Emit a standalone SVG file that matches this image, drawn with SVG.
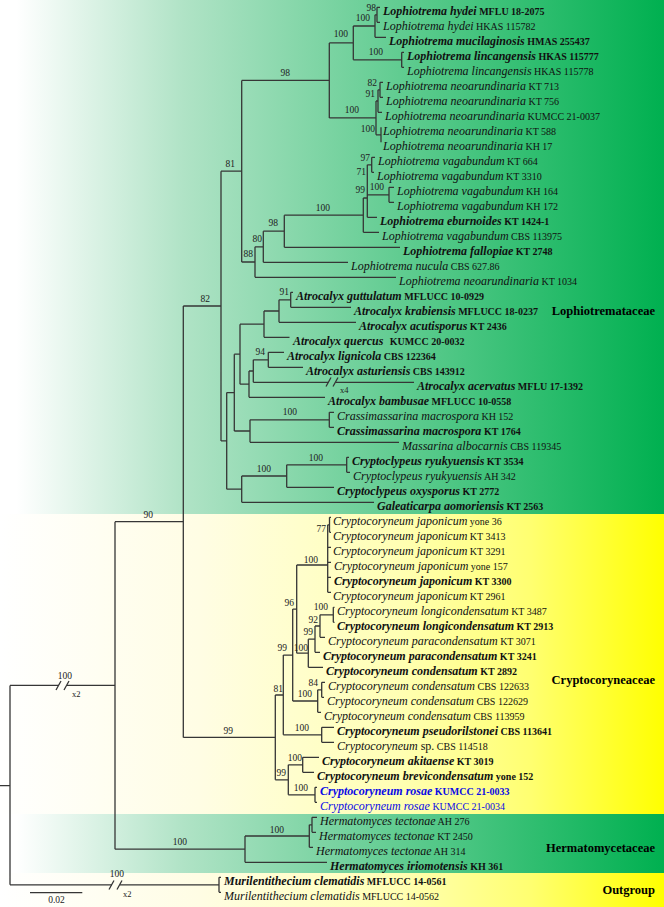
<svg xmlns="http://www.w3.org/2000/svg" width="664" height="907" viewBox="0 0 664 907">
<defs>
<linearGradient id="gG" x1="0" y1="0" x2="664" y2="0" gradientUnits="userSpaceOnUse">
<stop offset="0" stop-color="#ffffff"/>
<stop offset="0.025" stop-color="#ffffff"/>
<stop offset="0.276" stop-color="#b0e3c6"/>
<stop offset="1" stop-color="#00b050"/>
</linearGradient>
<linearGradient id="gY" x1="0" y1="0" x2="664" y2="0" gradientUnits="userSpaceOnUse">
<stop offset="0" stop-color="#ffffff"/>
<stop offset="0.3" stop-color="#fffde4"/>
<stop offset="0.6" stop-color="#ffffb4"/>
<stop offset="0.8" stop-color="#ffff70"/>
<stop offset="1" stop-color="#ffff00"/>
</linearGradient>
<style>
.e{fill:none;stroke:#363636;stroke-width:1.3}
.t{font-family:"Liberation Serif","Times New Roman",serif;font-size:10px;fill:#111}
.i{font-style:italic;font-size:12px}
.u{font-size:12px}
.b{font-weight:bold}
.bl{fill:#0a0ae6}
.s{font-family:"Liberation Serif","Times New Roman",serif;font-size:9.5px;fill:#222;text-anchor:end}
.x{font-family:"Liberation Serif","Times New Roman",serif;font-size:8.5px;fill:#222}
.f{font-family:"Liberation Serif","Times New Roman",serif;font-size:12.5px;font-weight:bold;text-anchor:end;fill:#000}
</style>
</defs>
<g id="background">
<rect x="0" y="0" width="664" height="514" fill="url(#gG)"/>
<rect x="0" y="514" width="664" height="300" fill="url(#gY)"/>
<rect x="0" y="814" width="664" height="59" fill="url(#gG)"/>
<rect x="0" y="873" width="664" height="34" fill="url(#gY)"/>
</g>
<g id="connectors">
<path class="e" d="M0,785.6H10 M10,685.4V884.8 M10,685.4H59 M67,685.4H115 M10,884.8H112 M120,884.8H219 M219,877.3V892.3 M219,877.3H221 M219,892.3H221"/>
<path class="e" d="M56,690L61,681 M64,690L69,681 M109,889.5L114,880.5 M117,889.5L122,880.5"/>
<path class="e" d="M115,521.7V849.2 M115,521.7H183.3 M115,849.2H245 M245,836V862.3 M245,836H309.3 M245,862.3H327 M309.3,824.8V847.3 M309.3,824.8H312 M309.3,847.3H313 M312,817.3V832.3 M312,817.3H317 M312,832.3H316"/>
<path class="e" d="M183.3,306V737.4 M183.3,306H221 M183.3,737.4H275.3
M275.3,695V779.8 M275.3,695H283.3 M275.3,779.8H288.3
M283.3,655.1V734.8 M283.3,655.1H292.7 M283.3,734.8H321.7
M321.7,727.3V742.3 M321.7,727.3H334 M321.7,742.3H334
M288.3,764.8V794.8 M288.3,764.8H302.7 M288.3,794.8H315
M302.7,757.3V772.3 M302.7,757.3H319 M302.7,772.3H314
M315,787.3V802.3 M315,787.3H317 M315,802.3H317
M292.7,609.1V701 M292.7,609.1H296.7 M292.7,701H317.7
M317.7,689.8V712.3 M317.7,689.8H321.7 M317.7,712.3H321
M321.7,682.3V697.3 M321.7,682.3H325 M321.7,697.3H324
M296.7,565V653.2 M296.7,565H327.7 M296.7,653.2H308.3
M308.3,639.2V667.3 M308.3,639.2H315 M308.3,667.3H323
M315,626V652.3 M315,626H320 M315,652.3H320
M320,614.8V637.3 M320,614.8H333.3 M320,637.3H325
M333.3,607.3V622.3 M333.3,607.3H334.5 M333.3,622.3H334.5
M327.7,524.8V592.3 M327.7,524.8H329.5 M327.7,547.3H331 M327.7,562.3H331 M327.7,577.3H331 M327.7,592.3H331
M329.5,517.3V532.3 M329.5,517.3H331 M329.5,532.3H331"/>
<path class="e" d="M221,171.2V440.9 M221,171.2H241.7 M221,440.9H226.7
M226.7,392.6V489.2 M226.7,392.6H234.3 M226.7,489.2H241.7
M241.7,476V502.3 M241.7,476H286.7 M241.7,502.3H374
M286.7,464.8V487.3 M286.7,464.8H346.7 M286.7,487.3H334
M346.7,457.3V472.3 M346.7,457.3H349 M346.7,472.3H350
M234.3,354.2V431 M234.3,354.2H240 M234.3,431H250
M250,419.8V442.3 M250,419.8H329.3 M250,442.3H399
M329.3,412.3V427.3 M329.3,412.3H334 M329.3,427.3H334
M240,324.2V384.2 M240,324.2H264 M240,384.2H249
M249,371V397.3 M249,371H253.3 M249,397.3H325
M253.3,359.8V382.3 M253.3,359.8H268.3 M253.3,382.3H328.5 M335.5,382.3H414
M268.3,352.3V367.3 M268.3,352.3H284 M268.3,367.3H303
M264,311V337.3 M264,311H279 M264,337.3H289.5
M279,299.8V322.3 M279,299.8H290.7 M279,322.3H356
M290.7,292.3V307.3 M290.7,292.3H293 M290.7,307.3H351"/>
<path class="e" d="M326,386.5L331,377.5 M333,386.5L338,377.5"/>
<path class="e" d="M241.7,80.4V262 M241.7,80.4H329.3 M241.7,262H255
M255,246.8V277.3 M255,246.8H263.3 M255,277.3H396
M263.3,231.2V262.3 M263.3,231.2H284.3 M263.3,262.3H348
M284.3,215.2V247.3 M284.3,215.2H363.3 M284.3,247.3H400
M363.3,198V232.3 M363.3,198H367.3 M363.3,232.3H379
M367.3,164.8V217.3 M367.3,164.8H371.7 M367.3,194.8H389 M367.3,217.3H377
M389,187.3V202.3 M389,187.3H394 M389,202.3H394
M371.7,157.3V172.3 M371.7,157.3H375 M371.7,172.3H374
M329.3,42.9V117.9 M329.3,42.9H353.3 M329.3,117.9H376
M353.3,26V59.8 M353.3,26H375 M353.3,59.8H401.7
M375,14.8V37.3 M375,14.8H377 M375,37.3H386
M377,7.3V22.3 M377,7.3H380 M377,22.3H380
M401.7,52.3V67.3 M401.7,52.3H404 M401.7,67.3H404
M376,101V134.8 M376,101H378 M376,134.8H381
M378,89.8V112.3 M378,89.8H380 M378,112.3H382
M380,82.3V97.3 M380,82.3H383 M380,97.3H383
M381,127.3V142.3"/>
<path class="e" d="M30,892.7H82.3"/>
</g>
<g id="support">
<text class="s" x="376" y="10.5">98</text>
<text class="s" x="370" y="20.5">100</text>
<text class="s" x="383" y="54.5">100</text>
<text class="s" x="348" y="36.5">100</text>
<text class="s" x="290" y="75.5">98</text>
<text class="s" x="377" y="86">82</text>
<text class="s" x="375" y="96.5">91</text>
<text class="s" x="359" y="112.5">100</text>
<text class="s" x="375" y="131.5">100</text>
<text class="s" x="370" y="160.5">97</text>
<text class="s" x="366" y="174.5">71</text>
<text class="s" x="365" y="192.5">99</text>
<text class="s" x="384" y="189.5">100</text>
<text class="s" x="330" y="211">100</text>
<text class="s" x="278" y="226">98</text>
<text class="s" x="262" y="241.5">80</text>
<text class="s" x="253" y="256.5">88</text>
<text class="s" x="235" y="166.5">81</text>
<text class="s" x="210" y="301.5">82</text>
<text class="s" x="289" y="294.5">91</text>
<text class="s" x="265" y="355">94</text>
<text class="x" x="340" y="393">x4</text>
<text class="s" x="297" y="415">100</text>
<text class="s" x="323" y="460.5">100</text>
<text class="s" x="271" y="471.5">100</text>
<text class="s" x="153" y="517.5">90</text>
<text class="s" x="326" y="531.5">77</text>
<text class="s" x="318" y="562.5">100</text>
<text class="s" x="328" y="610">100</text>
<text class="s" x="318" y="623">92</text>
<text class="s" x="313" y="635">99</text>
<text class="s" x="308" y="651">100</text>
<text class="s" x="294" y="606">96</text>
<text class="s" x="287" y="651">99</text>
<text class="s" x="318" y="686">84</text>
<text class="s" x="312" y="697">100</text>
<text class="s" x="283" y="691.5">81</text>
<text class="s" x="309" y="731">100</text>
<text class="s" x="302" y="760.5">100</text>
<text class="s" x="286" y="776">99</text>
<text class="s" x="308" y="791">100</text>
<text class="s" x="233" y="733.5">99</text>
<text class="s" x="187" y="845">100</text>
<text class="s" x="284" y="833">100</text>
<text class="s" x="72" y="679">100</text>
<text class="x" x="72" y="697">x2</text>
<text class="s" x="124" y="876.5">100</text>
<text class="x" x="123" y="897">x2</text>
<text class="s" x="56.5" y="903" style="text-anchor:middle">0.02</text>
</g>
<g id="families">
<text id="fam-lophiotremataceae" class="f" x="655" y="314.5">Lophiotremataceae</text>
<text id="fam-cryptocoryneaceae" class="f" x="655" y="683.5">Cryptocoryneaceae</text>
<text id="fam-hermatomycetaceae" class="f" x="655" y="852">Hermatomycetaceae</text>
<text id="fam-outgroup" class="f" x="655" y="894">Outgroup</text>
</g>
<g id="taxa">
<g id="t0"><text class="t b" x="383" y="15.3"><tspan class="i">Lophiotrema hydei</tspan> MFLU 18-2075</text></g>
<g id="t1"><text class="t" x="383" y="30.3"><tspan class="i">Lophiotrema hydei</tspan> HKAS 115782</text></g>
<g id="t2"><text class="t b" x="389" y="45.3"><tspan class="i">Lophiotrema mucilaginosis</tspan> HMAS 255437</text></g>
<g id="t3"><text class="t b" x="407" y="60.3"><tspan class="i">Lophiotrema lincangensis</tspan> HKAS 115777</text></g>
<g id="t4"><text class="t" x="407" y="75.3"><tspan class="i">Lophiotrema lincangensis</tspan> HKAS 115778</text></g>
<g id="t5"><text class="t" x="386" y="90.3"><tspan class="i">Lophiotrema neoarundinaria</tspan> KT 713</text></g>
<g id="t6"><text class="t" x="386" y="105.3"><tspan class="i">Lophiotrema neoarundinaria</tspan> KT 756</text></g>
<g id="t7"><text class="t" x="385" y="120.3"><tspan class="i">Lophiotrema neoarundinaria</tspan> KUMCC 21-0037</text></g>
<g id="t8"><text class="t" x="383" y="135.3"><tspan class="i">Lophiotrema neoarundinaria</tspan> KT 588</text></g>
<g id="t9"><text class="t" x="383" y="150.3"><tspan class="i">Lophiotrema neoarundinaria</tspan> KH 17</text></g>
<g id="t10"><text class="t" x="378" y="165.3"><tspan class="i">Lophiotrema vagabundum</tspan> KT 664</text></g>
<g id="t11"><text class="t" x="377" y="180.3"><tspan class="i">Lophiotrema vagabundum</tspan> KT 3310</text></g>
<g id="t12"><text class="t" x="397" y="195.3"><tspan class="i">Lophiotrema vagabundum</tspan> KH 164</text></g>
<g id="t13"><text class="t" x="397" y="210.3"><tspan class="i">Lophiotrema vagabundum</tspan> KH 172</text></g>
<g id="t14"><text class="t b" x="380" y="225.3"><tspan class="i">Lophiotrema eburnoides</tspan> KT 1424-1</text></g>
<g id="t15"><text class="t" x="382" y="240.3"><tspan class="i">Lophiotrema vagabundum</tspan> CBS 113975</text></g>
<g id="t16"><text class="t b" x="403" y="255.3"><tspan class="i">Lophiotrema fallopiae</tspan> KT 2748</text></g>
<g id="t17"><text class="t" x="351" y="270.3"><tspan class="i">Lophiotrema nucula</tspan> CBS 627.86</text></g>
<g id="t18"><text class="t" x="399" y="285.3"><tspan class="i">Lophiotrema neoarundinaria</tspan> KT 1034</text></g>
<g id="t19"><text class="t b" x="296" y="300.3"><tspan class="i">Atrocalyx guttulatum</tspan> MFLUCC 10-0929</text></g>
<g id="t20"><text class="t b" x="354" y="315.3"><tspan class="i">Atrocalyx krabiensis</tspan> MFLUCC 18-0237</text></g>
<g id="t21"><text class="t b" x="359" y="330.3"><tspan class="i">Atrocalyx acutisporus</tspan> KT 2436</text></g>
<g id="t22"><text class="t b" x="293" y="345.3"><tspan class="i">Atrocalyx quercus</tspan><tspan dx="4"> KUMCC 20-0032</tspan></text></g>
<g id="t23"><text class="t b" x="287" y="360.3"><tspan class="i">Atrocalyx lignicola</tspan> CBS 122364</text></g>
<g id="t24"><text class="t b" x="306" y="375.3"><tspan class="i">Atrocalyx asturiensis</tspan> CBS 143912</text></g>
<g id="t25"><text class="t b" x="417" y="390.3"><tspan class="i">Atrocalyx acervatus</tspan> MFLU 17-1392</text></g>
<g id="t26"><text class="t b" x="328" y="405.3"><tspan class="i">Atrocalyx bambusae</tspan> MFLUCC 10-0558</text></g>
<g id="t27"><text class="t" x="337" y="420.3"><tspan class="i">Crassimassarina macrospora</tspan> KH 152</text></g>
<g id="t28"><text class="t b" x="337" y="435.3"><tspan class="i">Crassimassarina macrospora</tspan> KT 1764</text></g>
<g id="t29"><text class="t" x="402" y="450.3"><tspan class="i">Massarina albocarnis</tspan> CBS 119345</text></g>
<g id="t30"><text class="t b" x="352" y="465.3"><tspan class="i">Cryptoclypeus ryukyuensis</tspan> KT 3534</text></g>
<g id="t31"><text class="t" x="353" y="480.3"><tspan class="i">Cryptoclypeus ryukyuensis</tspan> AH 342</text></g>
<g id="t32"><text class="t b" x="337" y="495.3"><tspan class="i">Cryptoclypeus oxysporus</tspan> KT 2772</text></g>
<g id="t33"><text class="t b" x="377" y="510.3"><tspan class="i">Galeaticarpa aomoriensis</tspan> KT 2563</text></g>
<g id="t34"><text class="t" x="333" y="525.3"><tspan class="i">Cryptocoryneum japonicum</tspan> yone 36</text></g>
<g id="t35"><text class="t" x="333" y="540.3"><tspan class="i">Cryptocoryneum japonicum</tspan> KT 3413</text></g>
<g id="t36"><text class="t" x="333" y="555.3"><tspan class="i">Cryptocoryneum japonicum</tspan> KT 3291</text></g>
<g id="t37"><text class="t" x="334" y="570.3"><tspan class="i">Cryptocoryneum japonicum</tspan> yone 157</text></g>
<g id="t38"><text class="t b" x="334" y="585.3"><tspan class="i">Cryptocoryneum japonicum</tspan> KT 3300</text></g>
<g id="t39"><text class="t" x="333" y="600.3"><tspan class="i">Cryptocoryneum japonicum</tspan> KT 2961</text></g>
<g id="t40"><text class="t" x="337" y="615.3"><tspan class="i">Cryptocoryneum longicondensatum</tspan> KT 3487</text></g>
<g id="t41"><text class="t b" x="337" y="630.3"><tspan class="i">Cryptocoryneum longicondensatum</tspan> KT 2913</text></g>
<g id="t42"><text class="t" x="328" y="645.3"><tspan class="i">Cryptocoryneum paracondensatum</tspan> KT 3071</text></g>
<g id="t43"><text class="t b" x="323" y="660.3"><tspan class="i">Cryptocoryneum paracondensatum</tspan> KT 3241</text></g>
<g id="t44"><text class="t b" x="326" y="675.3"><tspan class="i">Cryptocoryneum condensatum</tspan> KT 2892</text></g>
<g id="t45"><text class="t" x="328" y="690.3"><tspan class="i">Cryptocoryneum condensatum</tspan> CBS 122633</text></g>
<g id="t46"><text class="t" x="327" y="705.3"><tspan class="i">Cryptocoryneum condensatum</tspan> CBS 122629</text></g>
<g id="t47"><text class="t" x="324" y="720.3"><tspan class="i">Cryptocoryneum condensatum</tspan> CBS 113959</text></g>
<g id="t48"><text class="t b" x="337" y="735.3"><tspan class="i">Cryptocoryneum pseudorilstonei</tspan> CBS 113641</text></g>
<g id="t49"><text class="t" x="337" y="750.3"><tspan class="i">Cryptocoryneum</tspan><tspan class="u"> sp.</tspan> CBS 114518</text></g>
<g id="t50"><text class="t b" x="322" y="765.3"><tspan class="i">Cryptocoryneum akitaense</tspan> KT 3019</text></g>
<g id="t51"><text class="t b" x="317" y="780.3"><tspan class="i">Cryptocoryneum brevicondensatum</tspan> yone 152</text></g>
<g id="t52"><text class="t b bl" x="320" y="795.3"><tspan class="i">Cryptocoryneum rosae</tspan> KUMCC 21-0033</text></g>
<g id="t53"><text class="t bl" x="320" y="810.3"><tspan class="i">Cryptocoryneum rosae</tspan> KUMCC 21-0034</text></g>
<g id="t54"><text class="t" x="320" y="825.3"><tspan class="i">Hermatomyces tectonae</tspan> AH 276</text></g>
<g id="t55"><text class="t" x="319" y="840.3"><tspan class="i">Hermatomyces tectonae</tspan> KT 2450</text></g>
<g id="t56"><text class="t" x="316" y="855.3"><tspan class="i">Hermatomyces tectonae</tspan> AH 314</text></g>
<g id="t57"><text class="t b" x="330" y="870.3"><tspan class="i">Hermatomyces iriomotensis</tspan> KH 361</text></g>
<g id="t58"><text class="t b" x="224" y="885.3"><tspan class="i">Murilentithecium clematidis</tspan> MFLUCC 14-0561</text></g>
<g id="t59"><text class="t" x="224" y="900.3"><tspan class="i">Murilentithecium clematidis</tspan> MFLUCC 14-0562</text></g>
</g>
</svg>
